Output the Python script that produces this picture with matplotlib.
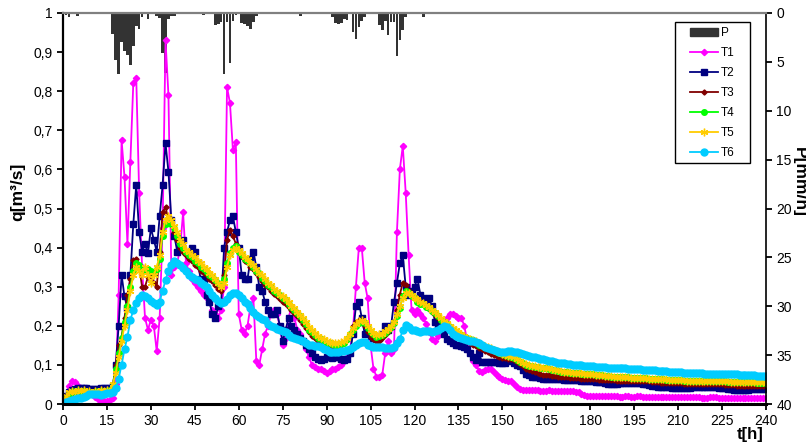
import numpy as np
import matplotlib
matplotlib.use("Agg")
import matplotlib.pyplot as plt
from matplotlib.patches import Patch, Rectangle
from matplotlib.lines import Line2D

plt.rcParams['font.family'] = ['Liberation Sans Narrow', 'Liberation Sans', 'DejaVu Sans']

# hourly time axis
hours = np.arange(0, 241)

# rainfall P [mm/h] (hours with rain only)
rain_h = [1, 2, 5, 17, 18, 19, 20, 21, 22, 23, 24, 25, 26, 27, 29, 32, 33, 34, 35, 36, 37, 38,
          48, 52, 53, 54, 55, 56, 57, 58, 59, 61, 62, 63, 64, 65, 66, 81,
          92, 93, 94, 95, 96, 97, 99, 100, 101, 102, 103, 108, 109, 110, 111, 112, 113,
          114, 115, 116, 117, 123]
rain_mm = [0.2, 0.45, 0.3, 2.1, 4.8, 6.2, 3.0, 3.9, 4.3, 5.3, 3.4, 1.3, 1.6, 0.4, 0.6, 0.3, 0.5, 4.1, 6.1, 0.6, 0.3, 0.3,
           0.2, 1.2, 1.1, 0.9, 6.2, 0.9, 5.1, 0.8, 0.2, 1.0, 1.1, 1.3, 1.6, 0.9, 0.3, 0.3,
           0.45, 1.0, 1.1, 1.0, 0.6, 0.7, 1.9, 2.7, 1.4, 0.8, 0.4, 1.2, 1.7, 0.8, 2.2, 0.9, 0.9,
           4.4, 2.8, 1.7, 0.4, 0.4]

# discharge q [m3/s], one value per hour, rows of 15 hours
t1 = [0.0, 0.02, 0.045, 0.06, 0.055, 0.045, 0.04, 0.04, 0.035, 0.03, 0.025, 0.018, 0.012, 0.008, 0.008,
      0.008, 0.01, 0.015, 0.05, 0.28, 0.675, 0.58, 0.41, 0.62, 0.82, 0.835, 0.54, 0.35, 0.22, 0.19,
      0.215, 0.2, 0.135, 0.22, 0.45, 0.93, 0.79, 0.33, 0.35, 0.36, 0.4, 0.49, 0.36, 0.34, 0.32,
      0.31, 0.3, 0.29, 0.28, 0.27, 0.26, 0.24, 0.23, 0.22, 0.24, 0.3, 0.81, 0.77, 0.65, 0.67,
      0.23, 0.19, 0.18, 0.2, 0.25, 0.27, 0.11, 0.1, 0.14, 0.18, 0.2, 0.23, 0.24, 0.23, 0.2,
      0.15, 0.17, 0.22, 0.25, 0.22, 0.19, 0.18, 0.16, 0.14, 0.12, 0.1, 0.095, 0.09, 0.09, 0.085,
      0.08, 0.085, 0.09, 0.09, 0.095, 0.1, 0.11, 0.12, 0.14, 0.19, 0.3, 0.4, 0.4, 0.31, 0.27,
      0.15, 0.09, 0.07, 0.068, 0.075, 0.13, 0.16, 0.13, 0.14, 0.44, 0.6, 0.66, 0.54, 0.38, 0.24,
      0.23, 0.24, 0.23, 0.22, 0.205, 0.185, 0.165, 0.16, 0.175, 0.195, 0.21, 0.22, 0.23, 0.23, 0.225,
      0.22, 0.22, 0.2, 0.16, 0.13, 0.11, 0.1, 0.085, 0.083, 0.088, 0.09, 0.09, 0.082, 0.075, 0.068,
      0.063, 0.061, 0.06, 0.058, 0.05, 0.043, 0.038, 0.036, 0.035, 0.035, 0.036, 0.035, 0.035, 0.034, 0.034,
      0.034, 0.035, 0.034, 0.034, 0.033, 0.034, 0.034, 0.033, 0.033, 0.032, 0.031, 0.03, 0.026, 0.022, 0.02,
      0.02, 0.02, 0.021, 0.02, 0.02, 0.02, 0.021, 0.02, 0.02, 0.02, 0.019, 0.019, 0.02, 0.02, 0.019,
      0.019, 0.02, 0.02, 0.019, 0.019, 0.018, 0.018, 0.018, 0.018, 0.017, 0.017, 0.017, 0.018, 0.018, 0.017,
      0.017, 0.017, 0.018, 0.018, 0.018, 0.017, 0.017, 0.017, 0.016, 0.016, 0.016, 0.017, 0.017, 0.017, 0.016,
      0.016, 0.015, 0.015, 0.015, 0.015, 0.016, 0.016, 0.015, 0.015, 0.015, 0.015, 0.015, 0.015, 0.016, 0.016,
      0.015]

t2 = [0.0, 0.02, 0.03, 0.035, 0.038, 0.04, 0.04, 0.04, 0.04, 0.039, 0.038, 0.038, 0.039, 0.04, 0.04,
      0.04, 0.041, 0.045, 0.1, 0.2, 0.33, 0.275, 0.245, 0.33, 0.46, 0.56, 0.44, 0.39, 0.41, 0.385,
      0.45, 0.42, 0.39, 0.48, 0.56, 0.667, 0.594, 0.47, 0.43, 0.39, 0.41, 0.42, 0.39, 0.38, 0.4,
      0.39, 0.36, 0.32, 0.32, 0.28, 0.26, 0.23, 0.22, 0.25, 0.26, 0.4, 0.44, 0.47, 0.48, 0.44,
      0.4, 0.33, 0.32, 0.32, 0.37, 0.39, 0.35, 0.3, 0.29, 0.26, 0.24, 0.23, 0.23, 0.24, 0.2,
      0.16, 0.19, 0.22, 0.2, 0.19, 0.18, 0.17, 0.16, 0.15, 0.14, 0.13, 0.12, 0.115, 0.113, 0.115,
      0.12, 0.12, 0.118, 0.12, 0.12, 0.115, 0.113, 0.115, 0.13, 0.18, 0.25, 0.26, 0.22, 0.18, 0.185,
      0.175, 0.17, 0.165, 0.17, 0.18, 0.2, 0.19, 0.2, 0.26, 0.31, 0.36, 0.38, 0.3, 0.28, 0.29,
      0.3, 0.32, 0.28, 0.27, 0.26, 0.27, 0.25, 0.21, 0.2, 0.19, 0.18, 0.165, 0.16, 0.155, 0.15,
      0.15, 0.148, 0.147, 0.14, 0.13, 0.12, 0.113, 0.13, 0.108, 0.108, 0.107, 0.107, 0.108, 0.107, 0.106,
      0.106, 0.106, 0.11, 0.113, 0.105, 0.1, 0.096, 0.087, 0.078, 0.074, 0.07, 0.07, 0.068, 0.066, 0.065,
      0.065, 0.064, 0.064, 0.063, 0.063, 0.063, 0.062, 0.062, 0.062, 0.061, 0.061, 0.061, 0.06, 0.06, 0.059,
      0.058, 0.058, 0.057, 0.056, 0.055, 0.054, 0.052, 0.051, 0.051, 0.052, 0.053, 0.053, 0.053, 0.053, 0.053,
      0.053, 0.053, 0.053, 0.052, 0.05, 0.048, 0.046, 0.045, 0.044, 0.044, 0.044, 0.044, 0.043, 0.042, 0.042,
      0.041, 0.041, 0.041, 0.041, 0.042, 0.043, 0.044, 0.044, 0.044, 0.044, 0.044, 0.044, 0.044, 0.043, 0.042,
      0.041, 0.04, 0.039, 0.038, 0.037, 0.036, 0.036, 0.036, 0.036, 0.037, 0.038, 0.038, 0.038, 0.038, 0.038,
      0.038]

t3 = [0.0, 0.015, 0.025, 0.028, 0.03, 0.03, 0.03, 0.03, 0.029, 0.028, 0.028, 0.029, 0.03, 0.03, 0.031,
      0.031, 0.032, 0.045, 0.1, 0.15, 0.172, 0.22, 0.28, 0.32, 0.368, 0.37, 0.35, 0.3, 0.3, 0.325,
      0.33, 0.31, 0.3, 0.39, 0.49, 0.504, 0.47, 0.46, 0.44, 0.42, 0.4, 0.39, 0.38, 0.37, 0.365,
      0.355, 0.35, 0.34, 0.335, 0.33, 0.32, 0.315, 0.305, 0.295, 0.29, 0.33, 0.42, 0.445, 0.43, 0.41,
      0.39, 0.375, 0.365, 0.36, 0.35, 0.345, 0.335, 0.325, 0.315, 0.305, 0.298, 0.29, 0.282, 0.275, 0.268,
      0.262, 0.255, 0.248, 0.24, 0.232, 0.225, 0.215, 0.205, 0.195, 0.185, 0.175, 0.168, 0.162, 0.158, 0.154,
      0.151, 0.15, 0.149, 0.148, 0.148, 0.15, 0.155, 0.163, 0.18, 0.2, 0.21, 0.215, 0.212, 0.2, 0.185,
      0.172, 0.165, 0.16, 0.162, 0.168, 0.176, 0.185, 0.195, 0.21, 0.24, 0.28, 0.31, 0.305, 0.29, 0.28,
      0.27, 0.265, 0.26, 0.255, 0.25, 0.243, 0.235, 0.228, 0.22, 0.212, 0.205, 0.198, 0.19, 0.183, 0.177,
      0.172, 0.168, 0.164, 0.16, 0.156, 0.152, 0.148, 0.144, 0.14, 0.136, 0.132, 0.128, 0.125, 0.122, 0.12,
      0.118, 0.117, 0.116, 0.115, 0.113, 0.108, 0.102, 0.096, 0.09, 0.087, 0.084, 0.082, 0.08, 0.077, 0.075,
      0.074, 0.073, 0.072, 0.071, 0.07, 0.07, 0.069, 0.068, 0.067, 0.067, 0.066, 0.066, 0.065, 0.065, 0.064,
      0.064, 0.063, 0.063, 0.062, 0.062, 0.062, 0.061, 0.061, 0.061, 0.06, 0.06, 0.06, 0.06, 0.059, 0.059,
      0.059, 0.059, 0.059, 0.059, 0.059, 0.058, 0.057, 0.056, 0.055, 0.054, 0.054, 0.054, 0.053, 0.053, 0.053,
      0.053, 0.053, 0.052, 0.052, 0.052, 0.052, 0.052, 0.051, 0.051, 0.051, 0.051, 0.051, 0.051, 0.05, 0.05,
      0.05, 0.049, 0.049, 0.048, 0.048, 0.047, 0.047, 0.047, 0.046, 0.046, 0.046, 0.046, 0.045, 0.045, 0.045,
      0.045]

t4 = [0.0, 0.015, 0.025, 0.03, 0.032, 0.033, 0.033, 0.032, 0.031, 0.03, 0.03, 0.031, 0.032, 0.033, 0.033,
      0.034, 0.035, 0.045, 0.09, 0.13, 0.17, 0.21, 0.25, 0.3, 0.34, 0.36, 0.355, 0.345, 0.34, 0.345,
      0.34, 0.335, 0.345, 0.37, 0.43, 0.46, 0.47, 0.46, 0.45, 0.43, 0.41, 0.4, 0.39, 0.38, 0.375,
      0.365, 0.36, 0.35, 0.345, 0.337, 0.33, 0.325, 0.316, 0.31, 0.305, 0.32, 0.36, 0.385, 0.4, 0.405,
      0.39, 0.38, 0.372, 0.365, 0.36, 0.35, 0.34, 0.334, 0.322, 0.315, 0.305, 0.3, 0.29, 0.284, 0.279,
      0.27, 0.265, 0.255, 0.249, 0.24, 0.232, 0.225, 0.215, 0.205, 0.19, 0.183, 0.176, 0.17, 0.165, 0.16,
      0.157, 0.155, 0.153, 0.152, 0.151, 0.153, 0.157, 0.165, 0.178, 0.19, 0.2, 0.206, 0.21, 0.208, 0.195,
      0.185, 0.178, 0.172, 0.173, 0.176, 0.182, 0.189, 0.198, 0.206, 0.225, 0.245, 0.275, 0.29, 0.285, 0.275,
      0.27, 0.262, 0.257, 0.255, 0.249, 0.245, 0.238, 0.232, 0.225, 0.215, 0.21, 0.205, 0.198, 0.19, 0.185,
      0.18, 0.177, 0.172, 0.168, 0.165, 0.163, 0.158, 0.152, 0.15, 0.147, 0.143, 0.14, 0.137, 0.134, 0.13,
      0.127, 0.125, 0.123, 0.121, 0.118, 0.113, 0.108, 0.104, 0.1, 0.098, 0.096, 0.095, 0.094, 0.093, 0.092,
      0.091, 0.09, 0.088, 0.087, 0.085, 0.083, 0.082, 0.081, 0.08, 0.08, 0.079, 0.079, 0.078, 0.078, 0.077,
      0.077, 0.076, 0.075, 0.074, 0.073, 0.072, 0.071, 0.07, 0.07, 0.07, 0.069, 0.069, 0.068, 0.068, 0.067,
      0.067, 0.067, 0.066, 0.066, 0.066, 0.065, 0.065, 0.064, 0.064, 0.063, 0.063, 0.062, 0.062, 0.062, 0.061,
      0.061, 0.061, 0.06, 0.06, 0.06, 0.06, 0.06, 0.059, 0.059, 0.059, 0.059, 0.059, 0.059, 0.058, 0.058,
      0.058, 0.058, 0.057, 0.057, 0.057, 0.057, 0.056, 0.056, 0.056, 0.055, 0.055, 0.055, 0.054, 0.054, 0.054,
      0.053]

t5 = [0.0, 0.02, 0.03, 0.033, 0.03, 0.036, 0.032, 0.035, 0.03, 0.033, 0.029, 0.034, 0.031, 0.035, 0.032,
      0.036, 0.034, 0.05, 0.08, 0.12, 0.16, 0.2, 0.24, 0.29, 0.33, 0.35, 0.34, 0.33, 0.35, 0.33,
      0.31, 0.33, 0.35, 0.38, 0.44, 0.47, 0.48, 0.47, 0.455, 0.44, 0.42, 0.41, 0.395, 0.39, 0.38,
      0.375, 0.365, 0.36, 0.35, 0.345, 0.335, 0.33, 0.32, 0.31, 0.3, 0.31, 0.35, 0.38, 0.395, 0.4,
      0.395, 0.385, 0.375, 0.37, 0.36, 0.355, 0.345, 0.335, 0.33, 0.32, 0.31, 0.305, 0.295, 0.29, 0.28,
      0.275, 0.268, 0.26, 0.25, 0.245, 0.235, 0.228, 0.22, 0.21, 0.198, 0.19, 0.182, 0.175, 0.17, 0.165,
      0.162, 0.158, 0.156, 0.155, 0.156, 0.158, 0.162, 0.17, 0.18, 0.195, 0.205, 0.212, 0.215, 0.21, 0.2,
      0.19, 0.182, 0.177, 0.178, 0.18, 0.186, 0.193, 0.2, 0.21, 0.23, 0.25, 0.27, 0.285, 0.285, 0.28,
      0.272, 0.268, 0.26, 0.258, 0.252, 0.248, 0.24, 0.235, 0.228, 0.22, 0.213, 0.208, 0.2, 0.194, 0.188,
      0.183, 0.178, 0.174, 0.17, 0.167, 0.164, 0.16, 0.155, 0.152, 0.148, 0.145, 0.142, 0.138, 0.135, 0.132,
      0.128, 0.126, 0.124, 0.122, 0.119, 0.114, 0.11, 0.106, 0.102, 0.1, 0.098, 0.096, 0.095, 0.094, 0.093,
      0.092, 0.091, 0.089, 0.088, 0.086, 0.084, 0.083, 0.082, 0.081, 0.08, 0.08, 0.079, 0.079, 0.078, 0.078,
      0.077, 0.076, 0.075, 0.074, 0.073, 0.072, 0.071, 0.071, 0.07, 0.07, 0.07, 0.069, 0.068, 0.068, 0.067,
      0.067, 0.067, 0.066, 0.066, 0.066, 0.065, 0.065, 0.065, 0.064, 0.064, 0.063, 0.063, 0.062, 0.062, 0.062,
      0.061, 0.061, 0.061, 0.06, 0.06, 0.06, 0.06, 0.06, 0.059, 0.059, 0.059, 0.059, 0.059, 0.058, 0.058,
      0.058, 0.058, 0.058, 0.057, 0.057, 0.057, 0.057, 0.056, 0.056, 0.056, 0.056, 0.055, 0.055, 0.055, 0.055,
      0.054]

t6 = [0.0, 0.005, 0.008, 0.01, 0.012, 0.015, 0.015, 0.018, 0.02, 0.025, 0.025, 0.026, 0.025, 0.024, 0.025,
      0.027, 0.028, 0.03, 0.04, 0.065, 0.1, 0.14, 0.172, 0.215, 0.24, 0.258, 0.27, 0.279, 0.275, 0.27,
      0.263, 0.258, 0.253, 0.262, 0.29, 0.317, 0.34, 0.355, 0.365, 0.36, 0.355, 0.348, 0.34, 0.33, 0.325,
      0.32, 0.317, 0.31, 0.305, 0.3, 0.29, 0.28, 0.27, 0.263, 0.258, 0.26, 0.268, 0.279, 0.284, 0.284,
      0.279, 0.27, 0.262, 0.255, 0.245, 0.236, 0.228, 0.222, 0.218, 0.215, 0.205, 0.2, 0.197, 0.193, 0.19,
      0.186, 0.183, 0.176, 0.172, 0.168, 0.165, 0.163, 0.16, 0.156, 0.152, 0.15, 0.149, 0.148, 0.146, 0.141,
      0.137, 0.134, 0.134, 0.134, 0.134, 0.135, 0.136, 0.138, 0.14, 0.145, 0.152, 0.156, 0.159, 0.158, 0.152,
      0.149, 0.147, 0.147, 0.147, 0.145, 0.143, 0.143, 0.144, 0.147, 0.155, 0.166, 0.19, 0.202, 0.198, 0.19,
      0.188, 0.186, 0.185, 0.186, 0.187, 0.186, 0.185, 0.186, 0.19, 0.195, 0.2, 0.198, 0.19, 0.18, 0.175,
      0.172, 0.168, 0.165, 0.163, 0.162, 0.16, 0.158, 0.155, 0.15, 0.146, 0.143, 0.14, 0.137, 0.135, 0.134,
      0.134, 0.134, 0.135, 0.135, 0.134, 0.132, 0.13, 0.127, 0.125, 0.123, 0.121, 0.12, 0.118, 0.116, 0.114,
      0.113, 0.111, 0.11, 0.108, 0.106, 0.105, 0.104, 0.103, 0.102, 0.101, 0.1, 0.1, 0.099, 0.098, 0.097,
      0.096, 0.096, 0.095, 0.095, 0.094, 0.094, 0.093, 0.093, 0.092, 0.092, 0.092, 0.091, 0.091, 0.09, 0.09,
      0.09, 0.089, 0.089, 0.088, 0.087, 0.087, 0.086, 0.086, 0.085, 0.085, 0.084, 0.084, 0.083, 0.083, 0.082,
      0.081, 0.081, 0.08, 0.08, 0.08, 0.079, 0.079, 0.079, 0.079, 0.078, 0.078, 0.078, 0.078, 0.078, 0.078,
      0.078, 0.078, 0.077, 0.077, 0.076, 0.076, 0.075, 0.075, 0.074, 0.074, 0.073, 0.073, 0.072, 0.072, 0.071,
      0.071]

series = [('T1', t1, '#FF00FF', 'D', 3.2),
          ('T2', t2, '#000080', 's', 4.3),
          ('T3', t3, '#800000', 'D', 2.6),
          ('T4', t4, '#00FF00', 'o', 4.0),
          ('T5', t5, '#FFCC00', (6, 2, 0), 5.5),
          ('T6', t6, '#00CCFF', 'o', 5.0)]

fig = plt.figure(figsize=(8.06, 4.43), dpi=100)
ax = fig.add_axes([63/806, 1-404/443, 703/806, 391/443])
ax2 = ax.twinx()

# rain bars hanging from the top (right axis, inverted)
ax2.bar(rain_h, rain_mm, width=0.9, color='#333333', linewidth=0)
ax2.set_ylim(40, 0)
ax2.set_yticks(range(0, 41, 5))

for name, vals, col, mk, ms in series:
    ax.plot(hours, vals, color=col, lw=1.3, marker=mk, ms=ms, mew=1.0,
            mec=col, mfc=col, label=name)

ax.set_zorder(ax2.get_zorder() + 1)
ax.patch.set_visible(False)

ax.set_xlim(0, 240)
ax.set_ylim(0, 1)
ax.set_xticks(range(0, 241, 15))
ax.set_yticks(np.arange(0, 1.01, 0.1))
ax.set_yticklabels(['0', '0,1', '0,2', '0,3', '0,4', '0,5', '0,6', '0,7', '0,8', '0,9', '1'])

for a in (ax, ax2):
    a.tick_params(direction='out', length=4, width=1.3, labelsize=10, colors='black')
for s in ax2.spines.values():
    s.set_visible(False)
ax.spines['left'].set_linewidth(1.6)
ax.spines['bottom'].set_linewidth(2.2)
ax.spines['right'].set_linewidth(1.2)
ax.spines['top'].set_color('#808080')
ax.spines['top'].set_linewidth(1.6)

fig.text(18/806, 1-192/443, 'q[m³/s]', rotation=90, ha='center', va='center',
         fontsize=12.5, fontweight='bold', family=['Liberation Sans', 'DejaVu Sans'])
fig.text(750/806, 1/443, 't[h]', ha='center', va='bottom',
         fontsize=12, fontweight='bold', family=['Liberation Sans', 'DejaVu Sans'])
fig.text(792/806, 1-182/443, 'P[mm/h]', rotation=270, ha='left', va='center',
         fontsize=12.5, fontweight='bold', family=['Liberation Sans', 'DejaVu Sans'])

# legend with a plain rectangular frame, both inside the top axes
handles = [Patch(facecolor='#333333', edgecolor='#333333', label='P')]
for name, vals, col, mk, ms in series:
    handles.append(Line2D([], [], color=col, lw=1.3, marker=mk, ms=ms, mew=1.0,
                          mec=col, mfc=col, label=name))
frame = Rectangle((675/806, 1-163/443), 75/806, 141/443, transform=fig.transFigure,
                  facecolor='white', edgecolor='black', linewidth=1.0,
                  zorder=5, clip_on=False)
ax.add_artist(frame)
leg = ax.legend(handles=handles, loc='upper left',
                bbox_to_anchor=(690/806, 1-27/443), bbox_transform=fig.transFigure,
                fontsize=8.5, frameon=False, handlelength=2.4, handletextpad=0.2,
                labelspacing=0.68, borderpad=0, borderaxespad=0)
leg.set_zorder(6)

fig.savefig('out.png', dpi=100)
